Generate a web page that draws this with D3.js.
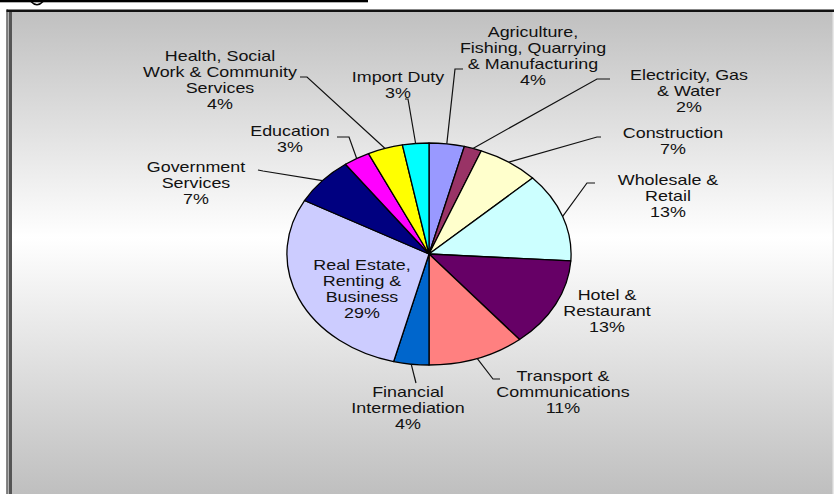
<!DOCTYPE html>
<html><head><meta charset="utf-8">
<script src="https://cdn.jsdelivr.net/npm/d3@7"></script>
<style>
body{margin:0;background:#fff;}
svg{display:block;font-family:"Liberation Sans",Arial,sans-serif;}
</style>
</head><body>
<svg id="c" width="834" height="494"></svg>
<script>
// ---- data ----
const categories = [
  "Agriculture,|Fishing, Quarrying|& Manufacturing",
  "Electricity, Gas|& Water",
  "Construction",
  "Wholesale &|Retail",
  "Hotel &|Restaurant",
  "Transport &|Communications",
  "Financial|Intermediation",
  "Real Estate,|Renting &|Business",
  "Government|Services",
  "Education",
  "Health, Social|Work & Community|Services",
  "Import Duty"
];
const values = [4, 2, 7, 13, 13, 11, 4, 29, 7, 3, 4, 3];
const colors = ["#9999ff","#993366","#ffffcc","#ccffff","#660066","#ff8080",
                "#0066cc","#ccccff","#000080","#ff00ff","#ffff00","#00ffff"];

// ---- layout (positions only) ----
const labelPos = [[533,37],[689,80],[673,138],[668,185],[607,300],[563,381],
                  [408,397],[362,270],[196,172],[290,136],[220,61],[398,82]];
const leaderBends = [
  [[455,69],[463,69]],
  [[597,79],[610,79]],
  [[597,137],[601,137]],
  [[587,183],[595,183]],
  null,
  [[493,379],[500,379]],
  [[416,383]],
  null,
  [[263,171],[258,170]],
  [[349,137],[337,137]],
  [[307,77],[300,77]],
  [[408,99],[405,99]]
];

const W = 834, H = 494;
const cx = 429, cy = 254, R = 111, SX = 1.28;

const svg = d3.select("#c");
const defs = svg.append("defs");
const grad = defs.append("linearGradient").attr("id","bg")
  .attr("x1",0).attr("y1",0).attr("x2",0).attr("y2",1);
grad.append("stop").attr("offset","0%").attr("stop-color","#c0c0c0");
grad.append("stop").attr("offset","46%").attr("stop-color","#ffffff");
grad.append("stop").attr("offset","100%").attr("stop-color","#bdbdbd");

// remnant of the page caption above the frame (descender stroke + rule)
svg.append("path").attr("d","M31,1.5 Q37,8 43,1.5").attr("fill","none")
  .attr("stroke","#000").attr("stroke-width",1.6);
svg.append("rect").attr("x",0).attr("y",0).attr("width",368).attr("height",2.3).attr("fill","#000");

// frame
svg.append("rect").attr("x",12).attr("y",12).attr("width",W-12).attr("height",490).attr("fill","url(#bg)");
svg.append("rect").attr("x",6.5).attr("y",9.5).attr("width",W-6.5).attr("height",2.5).attr("fill","#111");
svg.append("rect").attr("x",6.5).attr("y",9.5).attr("width",1.2).attr("height",H).attr("fill","#111");
svg.append("rect").attr("x",7.7).attr("y",12).attr("width",1).attr("height",H).attr("fill","#cfcfcf");
svg.append("rect").attr("x",8.7).attr("y",12).attr("width",3.3).attr("height",H).attr("fill","#555");
svg.append("rect").attr("x",832.5).attr("y",12).attr("width",1.5).attr("height",H).attr("fill","#e8e8e8");

// pie
const pie = d3.pie().sort(null).value(d => d)(values);
const arc = d3.arc().innerRadius(0).outerRadius(R);
const g = svg.append("g").attr("transform",`translate(${cx},${cy}) scale(${SX},1)`);
g.selectAll("path").data(pie).join("path")
  .attr("d", arc)
  .attr("fill", (d,i) => colors[i])
  .attr("stroke", "#000")
  .attr("stroke-width", 1.3)
  .attr("stroke-linejoin","round")
  .attr("vector-effect","non-scaling-stroke");

// leader lines
const edge = d => {
  const a = (d.startAngle + d.endAngle) / 2;
  return [cx + Math.sin(a) * R * SX, cy - Math.cos(a) * R];
};
pie.forEach((d,i) => {
  if (!leaderBends[i]) return;
  const pts = [edge(d), ...leaderBends[i]];
  svg.append("path")
    .attr("d", d3.line()(pts))
    .attr("fill","none").attr("stroke","#111").attr("stroke-width",1.2);
});

// labels
pie.forEach((d,i) => {
  const lines = categories[i].split("|").concat([values[i] + "%"]);
  const t = svg.append("text")
    .attr("transform", `translate(${labelPos[i][0]},${labelPos[i][1]}) scale(${SX},1)`)
    .attr("text-anchor","middle")
    .attr("font-size", 14)
    .attr("fill", "#111");
  lines.forEach((ln, k) => {
    t.append("tspan").attr("x", 0).attr("y", k * 16).text(ln);
  });
});
</script>
</body></html>
